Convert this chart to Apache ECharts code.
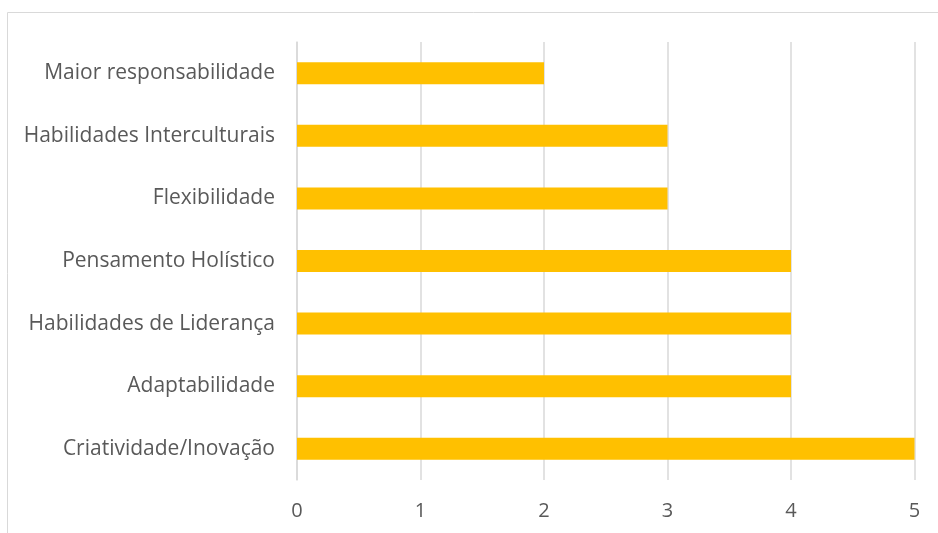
<!DOCTYPE html>
<html><head><meta charset="utf-8">
<script src="https://cdn.jsdelivr.net/npm/echarts@6/dist/echarts.min.js"></script>
<style>html,body{margin:0;padding:0;background:#fff}#c{width:938px;height:533px}</style>
</head><body><div id="c"></div>
<script>
const categories = ["Criatividade/Inovação","Adaptabilidade","Habilidades de Liderança","Pensamento Holístico","Flexibilidade","Habilidades Interculturais","Maior responsabilidade"];
const values = [5,4,4,4,3,3,2];
const xTicks = [0,1,2,3,4,5];
const chart = echarts.init(document.getElementById('c'));
chart.setOption({
  animation:false,
  graphic:[{type:'rect',shape:{x:7.5,y:12.5,width:940,height:540},style:{fill:'none',stroke:'#d9d9d9',lineWidth:1}}],
  grid:{left:297,right:23.5,top:42,bottom:53},
  xAxis:{type:'value',min:xTicks[0],max:xTicks[xTicks.length-1],interval:1,
    axisLine:{show:false},axisTick:{show:false},
    splitLine:{lineStyle:{color:'#d9d9d9',width:1.5}},
    axisLabel:{color:'#595959',fontSize:20,fontFamily:'Open Sans',margin:21}},
  yAxis:{type:'category',data:categories,
    axisLine:{show:true,lineStyle:{color:'#d9d9d9',width:1.5}},axisTick:{show:false},
    axisLabel:{color:'#595959',fontSize:21,fontFamily:'Open Sans',margin:22}},
  series:[{type:'bar',data:values,barWidth:22,itemStyle:{color:'#FFC000'}}]
});
</script></body></html>
